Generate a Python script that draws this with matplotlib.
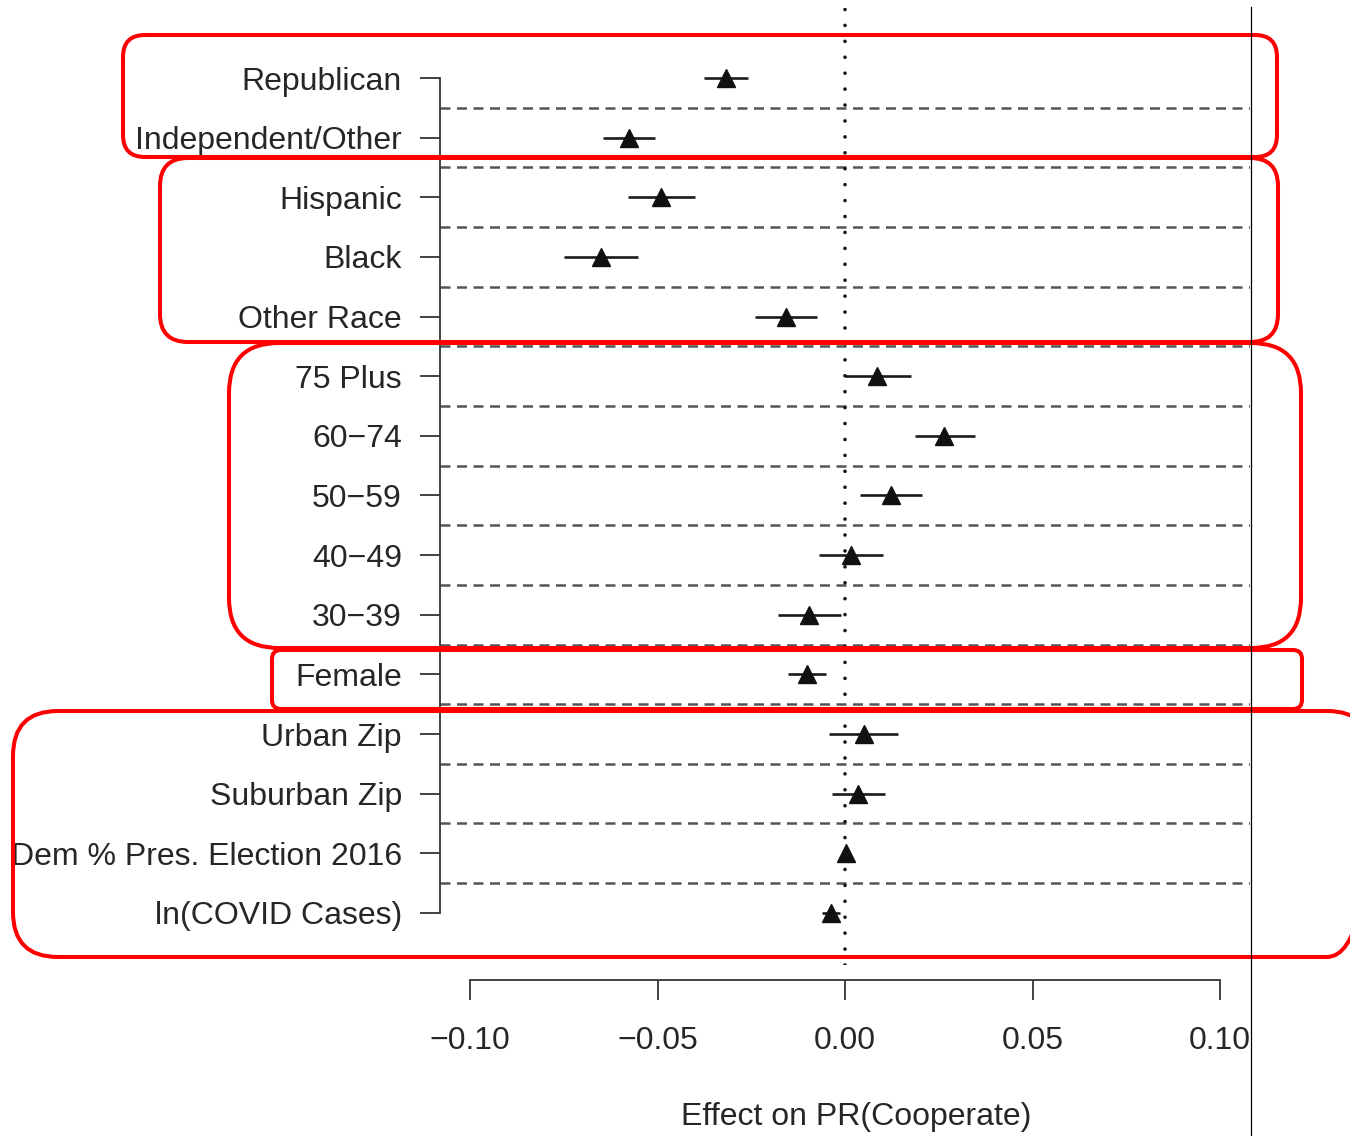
#!/usr/bin/env python
# -*- coding: utf-8 -*-
import matplotlib
matplotlib.use('Agg')
import matplotlib.pyplot as plt
from matplotlib.patches import FancyBboxPatch

# coefficient estimates and 95% intervals, top row first
labels = ['Republican', 'Independent/Other', 'Hispanic', 'Black', 'Other Race',
          '75 Plus', '60\u221274', '50\u221259', '40\u221249', '30\u221239',
          'Female', 'Urban Zip', 'Suburban Zip', 'Dem % Pres. Election 2016',
          'ln(COVID Cases)']
estimate = [-0.0317, -0.0576, -0.0490, -0.0651, -0.0157,
            0.0085, 0.0264, 0.0123, 0.0016, -0.0096,
            -0.0101, 0.0051, 0.0035, 0.0003, -0.0037]
ci_low = [-0.0376, -0.0645, -0.0579, -0.0749, -0.0240,
          0.0000, 0.0187, 0.0040, -0.0069, -0.0179,
          -0.0152, -0.0043, -0.0035, -0.0005, -0.0061]
ci_high = [-0.0259, -0.0507, -0.0400, -0.0552, -0.0075,
           0.0176, 0.0347, 0.0205, 0.0101, -0.0011,
           -0.0051, 0.0141, 0.0107, 0.0011, -0.0013]

x_ticks = [-0.10, -0.05, 0.00, 0.05, 0.10]
x_tick_labels = ['\u22120.10', '\u22120.05', '0.00', '0.05', '0.10']
x_title = 'Effect on PR(Cooperate)'

# red highlight boxes drawn over the figure, in pixels: x0, y0, x1, y1, corner
group_boxes = [
    (123, 35, 1277, 157, 22),
    (160, 158, 1278, 342, 28),
    (229, 343, 1301, 648, 50),
    (272, 650, 1302, 709, 9),
    (13, 711, 1372, 957, 45),
]

W, H = 1350, 1136
TEXT = '#262626'


def px(v):
    """pixels -> points at dpi 100"""
    return v * 0.72


def main():
    plt.rcParams['font.family'] = ['Liberation Sans', 'DejaVu Sans']
    plt.rcParams['font.size'] = 23
    fig = plt.figure(figsize=(W / 100, H / 100), dpi=100)

    # plot region spans 440..1250 px across, 8..965 px down
    ax = fig.add_axes([440 / W, 1 - 965 / H, 810 / W, 957 / H])
    ax.patch.set_alpha(0)
    n = len(labels)
    rows = list(range(n))

    ax.set_xlim(-0.108, 0.108)
    ax.set_ylim(14.873, -1.174)

    for i in range(n - 1):
        ax.axhline(i + 0.5, color='#555555', lw=1.8, ls=(0, (4.0, 2.6)), zorder=1)
    ax.axvline(0, color='#111111', lw=2.6, ls=(0, (0.01, 4.4)),
               dash_capstyle='round', zorder=2)

    ax.hlines(rows, ci_low, ci_high, color='#1a1a1a', lw=1.9, zorder=3)
    ax.plot(estimate, rows, ls='none', marker='^', ms=13, color='#111111',
            mec='#111111', zorder=4)

    for side in ['top', 'right']:
        ax.spines[side].set_visible(False)
    ax.spines['left'].set_bounds(0, n - 1)
    ax.spines['bottom'].set_position(('outward', px(15)))
    ax.spines['bottom'].set_bounds(x_ticks[0], x_ticks[-1])
    for side in ['left', 'bottom']:
        ax.spines[side].set_linewidth(1.3)
        ax.spines[side].set_color('#333333')

    ax.set_yticks(rows, labels)
    ax.set_xticks(x_ticks, x_tick_labels)
    ax.tick_params(axis='y', length=px(20), width=1.3, color='#333333',
                   pad=13, labelcolor=TEXT)
    ax.tick_params(axis='x', length=px(20), width=1.3, color='#333333',
                   pad=19, labelcolor=TEXT)

    ax.set_xlabel(x_title, color=TEXT, va='center')
    ax.xaxis.set_label_coords((856 - 440) / 810, (965 - 1117) / 957)

    # overlay in pixel units for the hand drawn annotation boxes
    ov = fig.add_axes([0, 0, 1, 1], zorder=10)
    ov.set_xlim(0, W)
    ov.set_ylim(H, 0)
    ov.axis('off')
    ov.patch.set_alpha(0)
    for x0, y0, x1, y1, r in group_boxes:
        ov.add_patch(FancyBboxPatch((x0, y0), x1 - x0, y1 - y0,
                                    boxstyle='round,pad=0,rounding_size=%d' % r,
                                    fill=False, ec='#ff0000', lw=2.9))
    ov.plot([1251, 1251], [7, H], color='black', lw=0.9)

    fig.savefig('out.png', dpi=100)


if __name__ == '__main__':
    main()
